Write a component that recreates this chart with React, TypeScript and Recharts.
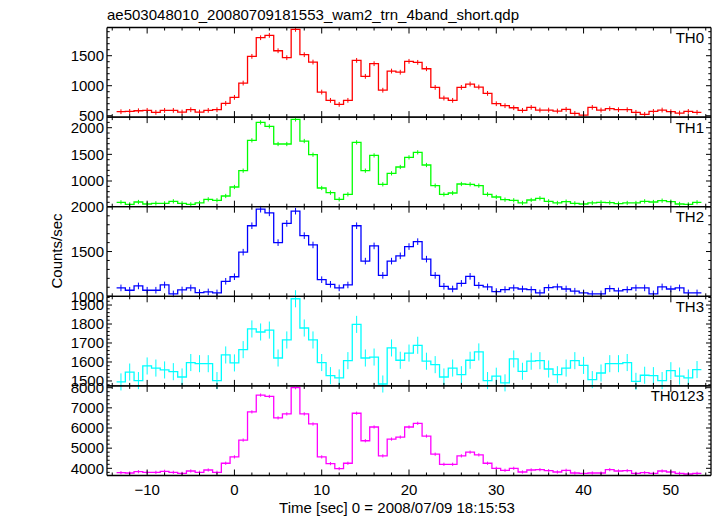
import React from 'react';
import { LineChart, Line, XAxis, YAxis, ErrorBar } from 'recharts';

// ---------- data ----------
const TIME_BINS = [
  -13, -12, -11, -10, -9, -8, -7, -6, -5, -4, -3, -2, -1, 0, 1, 2, 3, 4, 5, 6, 7, 8, 9,
  10, 11, 12, 13, 14, 15, 16, 17, 18, 19, 20, 21, 22, 23, 24, 25, 26, 27, 28, 29,
  30, 31, 32, 33, 34, 35, 36, 37, 38, 39, 40, 41, 42, 43, 44, 45, 46, 47, 48, 49,
  50, 51, 52, 53,
];

const TH0_RATE = [
  567, 572, 583, 589, 556, 589, 589, 561, 600, 561, 589, 600,
  706, 806, 1044, 1489, 1800, 1839, 1583, 1467, 1939, 1517, 1394,
  894, 756, 689, 756, 1422, 1156, 1367, 925, 1244, 1225,
  1406, 1389, 1283, 972, 794, 756, 972, 1028, 978, 872,
  700, 667, 633, 589, 639, 594, 594, 578, 606, 539,
  511, 639, 594, 617, 600, 600, 556, 522, 572, 594,
  567, 544, 572, 556,
];

const TH1_RATE = [
  600, 562, 606, 569, 581, 581, 619, 581, 562, 588, 656, 638,
  719, 888, 1194, 1763, 2100, 2025, 1694, 1694, 2156, 1750, 1494,
  869, 781, 656, 750, 1725, 1194, 1481, 938, 1144, 1263,
  1444, 1538, 1300, 913, 750, 775, 944, 938, 913, 750,
  700, 650, 638, 588, 644, 675, 619, 588, 613, 581,
  569, 588, 600, 594, 575, 588, 588, 619, 606, 631,
  613, 569, 562, 600,
];

const TH2_RATE = [
  1093, 1067, 1115, 1067, 1067, 1126, 1026, 1070, 1093, 1041, 1048, 1037,
  1167, 1218, 1493, 1789, 1974, 1933, 1600, 1815, 1952, 1678, 1574,
  1185, 1133, 1093, 1126, 1789, 1393, 1563, 1233, 1393, 1452,
  1556, 1611, 1415, 1233, 1111, 1081, 1144, 1222, 1122, 1104,
  1052, 1074, 1093, 1081, 1074, 1037, 1096, 1104, 1081, 1056,
  1037, 1026, 1026, 1085, 1059, 1074, 1093, 1093, 1026, 1104,
  1081, 1093, 1037, 1037,
];

const TH3_RATE = [
  1495, 1547, 1502, 1579, 1568, 1558, 1549, 1521, 1597, 1591, 1591, 1502,
  1637, 1595, 1665, 1774, 1758, 1768, 1621, 1716, 1933, 1779, 1716,
  1597, 1528, 1516, 1607, 1798, 1621, 1626, 1484, 1674, 1609,
  1647, 1688, 1604, 1586, 1521, 1568, 1533, 1609, 1653, 1502,
  1525, 1490, 1616, 1551, 1604, 1607, 1563, 1533, 1568, 1607,
  1582, 1507, 1542, 1591, 1591, 1597, 1498, 1530, 1528, 1502,
  1554, 1526, 1516, 1560,
];

const TH0123_RATE = [
  3783, 3767, 3833, 3800, 3800, 3850, 3800, 3750, 3867, 3800, 3917, 3800,
  4250, 4567, 5400, 6800, 7633, 7567, 6500, 6700, 8000, 6700, 6200,
  4567, 4233, 3983, 4250, 6733, 5367, 6050, 4617, 5450, 5550,
  6050, 6233, 5600, 4700, 4200, 4200, 4617, 4800, 4667, 4250,
  4000, 3900, 4000, 3817, 3917, 3933, 3883, 3817, 3900, 3767,
  3750, 3767, 3767, 3933, 3867, 3883, 3750, 3783, 3750, 3867,
  3817, 3750, 3717, 3750,
];

// approximate 1-sigma error read from the error bars of each panel
const TH0_ERR = 40;
const TH1_ERR = 40;
const TH2_ERR = 37;
const TH3_ERR = 45;
const TH0123_ERR = 80;

const BIN_HALF_WIDTH = 0.5;

const X_DOMAIN = [-14.6, 54.6];
const X_MAJOR_TICKS = [-10, 0, 10, 20, 30, 40, 50];
const X_ALL_TICKS = [
  -14, -12, -10, -8, -6, -4, -2, 0, 2, 4, 6, 8, 10, 12, 14, 16, 18, 20, 22, 24, 26, 28,
  30, 32, 34, 36, 38, 40, 42, 44, 46, 48, 50, 52, 54,
];

const PANEL_NAMES = ['TH0', 'TH1', 'TH2', 'TH3', 'TH0123'];
const PANEL_RATES = [TH0_RATE, TH1_RATE, TH2_RATE, TH3_RATE, TH0123_RATE];
const PANEL_ERRS = [TH0_ERR, TH1_ERR, TH2_ERR, TH3_ERR, TH0123_ERR];
const PANEL_COLORS = ['#ff0000', '#00ff00', '#0000ff', '#00ffff', '#ff00ff'];
const Y_DOMAINS = [
  [477, 1970],
  [518, 2199],
  [999, 2002],
  [1474, 1946],
  [3643, 8089],
];
const Y_MAJOR_TICKS = [
  [500, 1000, 1500],
  [1000, 1500, 2000],
  [1000, 1500, 2000],
  [1500, 1600, 1700, 1800, 1900],
  [4000, 5000, 6000, 7000, 8000],
];
const Y_MINOR_STEPS = [100, 100, 100, 20, 200];

const TITLE = 'ae503048010_20080709181553_wam2_trn_4band_short.qdp';
const X_TITLE = 'Time [sec] 0 = 2008/07/09 18:15:53';
const Y_TITLE = 'Counts/sec';

// ---------- layout ----------
const W = 717;
const H = 516;
const PLOT_LEFT = 107;
const PLOT_RIGHT = 711;
const PANEL_TOP = 27.5;
const PANEL_H = 89.6;
const X_AXIS_H = 1;
const FONT = '"Liberation Sans", Arial, Helvetica, sans-serif';
const FS = 15;

const fmt = (v: number) => (v < 0 ? '\u2212' + Math.abs(v) : String(v));

function minorTicks(domain: number[], step: number) {
  const out: number[] = [];
  const start = Math.ceil(domain[0] / step) * step;
  for (let v = start; v <= domain[1] + 1e-9; v += step) out.push(Math.round(v));
  return out;
}

function makeXTick(side: 'top' | 'bottom', showLabels: boolean) {
  return (props: any) => {
    const { x, y, payload } = props;
    const v = payload.value;
    const major = X_MAJOR_TICKS.includes(v);
    const len = major ? 6 : 3;
    const dir = side === 'bottom' ? -1 : 1;
    return (
      <g>
        <line x1={x} x2={x} y1={y} y2={y + dir * len} stroke="#000" strokeWidth={1} />
        {showLabels && major && side === 'bottom' ? (
          <text x={x} y={y + 19} textAnchor="middle" fontFamily={FONT} fontSize={FS} fill="#000">
            {fmt(v)}
          </text>
        ) : null}
      </g>
    );
  };
}

function makeYTick(side: 'left' | 'right', majors: number[]) {
  return (props: any) => {
    const { x, y, payload } = props;
    const v = payload.value;
    const major = majors.includes(v);
    const len = major ? 5 : 2.7;
    const dir = side === 'left' ? 1 : -1;
    return (
      <g>
        <line x1={x} x2={x + dir * len} y1={y} y2={y} stroke="#000" strokeWidth={1} />
        {major && side === 'left' ? (
          <text x={x - 3} y={y + 5.3} textAnchor="end" fontFamily={FONT} fontSize={FS} fill="#000">
            {fmt(v)}
          </text>
        ) : null}
      </g>
    );
  };
}

function Panel({ index }: { index: number }) {
  const rates = PANEL_RATES[index];
  const err = PANEL_ERRS[index];
  const color = PANEL_COLORS[index];
  const domain = Y_DOMAINS[index];
  const majors = Y_MAJOR_TICKS[index];
  const yTicks = minorTicks(domain, Y_MINOR_STEPS[index]);
  const top = PANEL_TOP + index * PANEL_H;
  const bottom = H - (top + PANEL_H);
  const isLast = index === PANEL_NAMES.length - 1;

  const binData = TIME_BINS.map((t, i) => ({ t, v: rates[i], e: err }));
  const stepData = [
    { t: TIME_BINS[0] - BIN_HALF_WIDTH, v: rates[0] },
    ...binData,
    { t: TIME_BINS[TIME_BINS.length - 1] + BIN_HALF_WIDTH, v: rates[rates.length - 1] },
  ];

  return (
    <div style={{ position: 'absolute', left: 0, top: 0 }}>
      <LineChart
        width={W}
        height={H}
        margin={{ top: top - X_AXIS_H, bottom: bottom - X_AXIS_H, left: 0, right: 0 }}
      >
        <XAxis
          xAxisId="b"
          dataKey="t"
          type="number"
          domain={X_DOMAIN}
          allowDataOverflow
          ticks={X_ALL_TICKS}
          interval={0}
          height={X_AXIS_H}
          tickSize={0}
          tickMargin={0}
          tickLine={false}
          stroke="#000"
          axisLine={{ stroke: '#000', strokeWidth: 1.3 }}
          tick={makeXTick('bottom', isLast)}
        />
        <XAxis
          xAxisId="t"
          orientation="top"
          dataKey="t"
          type="number"
          domain={X_DOMAIN}
          allowDataOverflow
          ticks={X_ALL_TICKS}
          interval={0}
          height={X_AXIS_H}
          tickSize={0}
          tickMargin={0}
          tickLine={false}
          stroke="#000"
          axisLine={{ stroke: '#000', strokeWidth: 1.3 }}
          tick={makeXTick('top', false)}
        />
        <YAxis
          yAxisId="l"
          type="number"
          domain={domain}
          allowDataOverflow
          ticks={yTicks}
          interval={0}
          width={PLOT_LEFT}
          tickSize={0}
          tickMargin={0}
          tickLine={false}
          stroke="#000"
          axisLine={{ stroke: '#000', strokeWidth: 1.3 }}
          tick={makeYTick('left', majors)}
        />
        <YAxis
          yAxisId="r"
          orientation="right"
          type="number"
          domain={domain}
          allowDataOverflow
          ticks={yTicks}
          interval={0}
          width={W - PLOT_RIGHT}
          tickSize={0}
          tickMargin={0}
          tickLine={false}
          stroke="#000"
          axisLine={{ stroke: '#000', strokeWidth: 1.3 }}
          tick={makeYTick('right', majors)}
        />
        <Line
          xAxisId="b"
          yAxisId="l"
          data={stepData}
          dataKey="v"
          type="step"
          stroke={color}
          strokeWidth={1.3}
          dot={false}
          isAnimationActive={false}
        />
        <Line
          xAxisId="b"
          yAxisId="l"
          data={binData}
          dataKey="v"
          stroke="none"
          dot={false}
          isAnimationActive={false}
        >
          <ErrorBar dataKey="e" direction="y" width={0} stroke={color} strokeWidth={1} />
        </Line>
      </LineChart>
    </div>
  );
}

export default function App() {
  return (
    <div style={{ position: 'absolute', left: 0, top: 0, width: W, height: H, background: '#fff' }}>
      {PANEL_NAMES.map((_, i) => (
        <Panel key={i} index={i} />
      ))}
      <svg
        width={W}
        height={H}
        style={{ position: 'absolute', left: 0, top: 0, pointerEvents: 'none' }}
      >
        <text x={PLOT_LEFT} y={20} fontFamily={FONT} fontSize={FS} fill="#000">
          {TITLE}
        </text>
        {PANEL_NAMES.map((name, i) => (
          <text
            key={name}
            x={704}
            y={PANEL_TOP + i * PANEL_H + 15.5}
            textAnchor="end"
            fontFamily={FONT}
            fontSize={FS}
            fill="#000"
          >
            {name}
          </text>
        ))}
        <text x={397} y={513} textAnchor="middle" fontFamily={FONT} fontSize={FS} fill="#000">
          {X_TITLE}
        </text>
        <text
          transform={`translate(62, 251) rotate(-90)`}
          textAnchor="middle"
          fontFamily={FONT}
          fontSize={FS}
          fill="#000"
        >
          {Y_TITLE}
        </text>
      </svg>
    </div>
  );
}
